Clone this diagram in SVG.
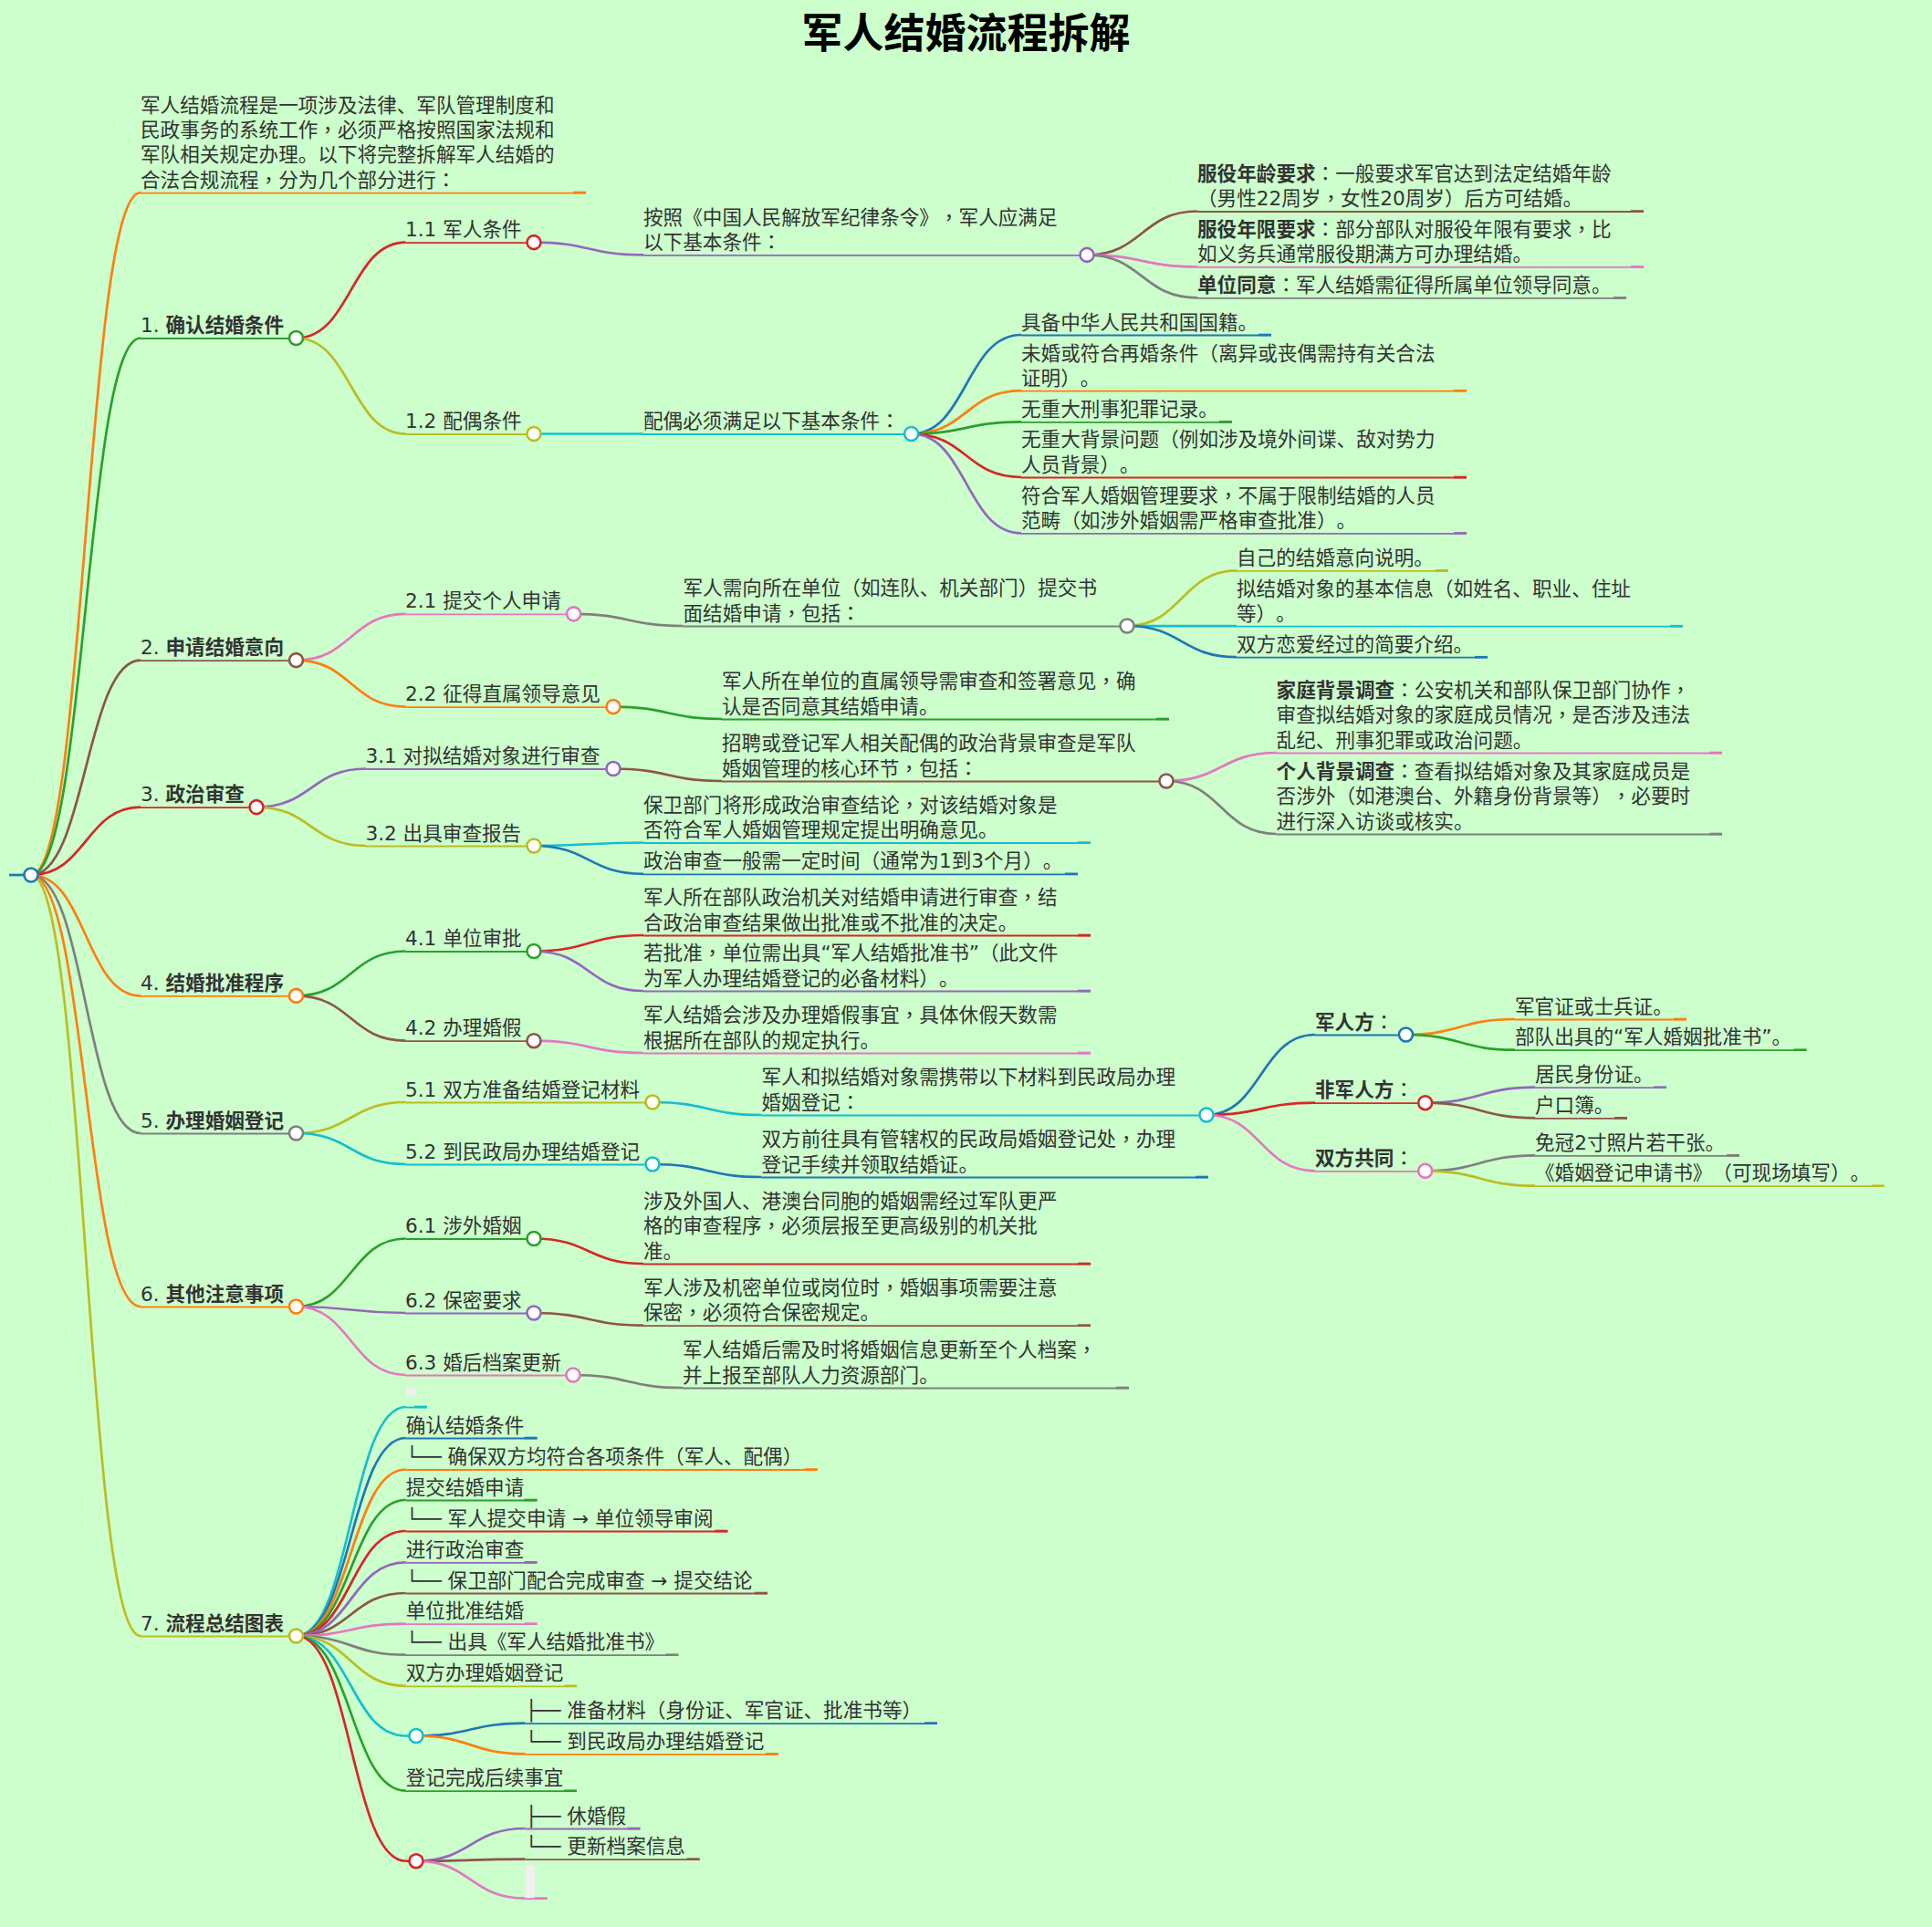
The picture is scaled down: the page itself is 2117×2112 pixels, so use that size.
<svg xmlns="http://www.w3.org/2000/svg" width="2117" height="2112" viewBox="0 0 2117 2112">
<style>
text{font-family:"DejaVu Sans","Noto Sans CJK SC",sans-serif;font-size:21.6px;fill:#333;text-spacing-trim:space-all;transform:translateY(.6px)}
.b{font-weight:700}
.p{font-family:"Noto Sans CJK TC",sans-serif}
.title{font-size:45px;font-weight:700;fill:#000;text-anchor:middle}
path{fill:none}
.l{stroke-width:2.7}
.u{stroke-width:1.8}
.t{stroke-width:2.6}
circle{fill:#fff;stroke-width:2.6}
rect{fill:#f0f0f0}
.c0{stroke:#1f77b4}.c1{stroke:#ff7f0e}.c2{stroke:#2ca02c}.c3{stroke:#d62728}.c4{stroke:#9467bd}.c5{stroke:#8c564b}.c6{stroke:#e377c2}.c7{stroke:#7f7f7f}.c8{stroke:#bcbd22}.c9{stroke:#17becf}
</style>
<rect width="2117" height="2112" style="fill:#ccffcc"/>
<text class="title" x="1058.5" y="52">军人结婚流程拆解</text>
<g id="connectors">
<path class="l c0" d="M10 959H34"/>
<path class="l c1" d="M34 959C94 959 94 211 154 211"/>
<path class="l c2" d="M34 959C94 959 94 370.5 154 370.5"/>
<path class="l c5" d="M34 959C94 959 94 723.6 154 723.6"/>
<path class="l c3" d="M34 959C94 959 94 884.6 154 884.6"/>
<path class="l c1" d="M34 959C94 959 94 1091.4 154 1091.4"/>
<path class="l c7" d="M34 959C94 959 94 1242 154 1242"/>
<path class="l c1" d="M34 959C94 959 94 1432 154 1432"/>
<path class="l c8" d="M34 959C94 959 94 1793 154 1793"/>
<path class="l c3" d="M324.5 370.5C384.5 370.5 384.5 265.6 444.6 265.6"/>
<path class="l c8" d="M324.5 370.5C384.5 370.5 384.5 475.5 444.6 475.5"/>
<path class="l c4" d="M585 265.6C645 265.6 645 279.4 705 279.4"/>
<path class="l c5" d="M1191 279.4C1251.5 279.4 1251.5 231.5 1312 231.5"/>
<path class="l c6" d="M1191 279.4C1251.5 279.4 1251.5 292.4 1312 292.4"/>
<path class="l c7" d="M1191 279.4C1251.5 279.4 1251.5 326.4 1312 326.4"/>
<path class="l c9" d="M585 475.5H705"/>
<path class="l c0" d="M998.6 475.5C1058.8 475.5 1058.8 367 1119 367"/>
<path class="l c1" d="M998.6 475.5C1058.8 475.5 1058.8 428.2 1119 428.2"/>
<path class="l c2" d="M998.6 475.5C1058.8 475.5 1058.8 462.3 1119 462.3"/>
<path class="l c3" d="M998.6 475.5C1058.8 475.5 1058.8 523 1119 523"/>
<path class="l c4" d="M998.6 475.5C1058.8 475.5 1058.8 584.4 1119 584.4"/>
<path class="l c6" d="M324.5 723.6C384.5 723.6 384.5 672.9 444.6 672.9"/>
<path class="l c1" d="M324.5 723.6C384.5 723.6 384.5 774.6 444.6 774.6"/>
<path class="l c7" d="M628.6 672.9C688.5 672.9 688.5 686 748.5 686"/>
<path class="l c8" d="M1235 686C1295 686 1295 625.3 1355 625.3"/>
<path class="l c9" d="M1235 686C1295 686 1295 686.2 1355 686.2"/>
<path class="l c0" d="M1235 686C1295 686 1295 720.2 1355 720.2"/>
<path class="l c2" d="M672 774.6C731.5 774.6 731.5 788 791 788"/>
<path class="l c4" d="M281 884.6C341 884.6 341 842.5 401 842.5"/>
<path class="l c8" d="M281 884.6C341 884.6 341 927 401 927"/>
<path class="l c5" d="M672 842.5C731.5 842.5 731.5 856 791 856"/>
<path class="l c6" d="M1278 856C1338.3 856 1338.3 825 1398.6 825"/>
<path class="l c7" d="M1278 856C1338.3 856 1338.3 914 1398.6 914"/>
<path class="l c9" d="M585 927C645 927 645 923.5 705 923.5"/>
<path class="l c0" d="M585 927C645 927 645 957.8 705 957.8"/>
<path class="l c2" d="M324.5 1091.4C384.5 1091.4 384.5 1042.5 444.6 1042.5"/>
<path class="l c5" d="M324.5 1091.4C384.5 1091.4 384.5 1140.7 444.6 1140.7"/>
<path class="l c3" d="M585 1042.5C645 1042.5 645 1025 705 1025"/>
<path class="l c4" d="M585 1042.5C645 1042.5 645 1086 705 1086"/>
<path class="l c6" d="M585 1140.7C645 1140.7 645 1154 705 1154"/>
<path class="l c8" d="M324.5 1242C384.5 1242 384.5 1208 444.6 1208"/>
<path class="l c9" d="M324.5 1242C384.5 1242 384.5 1276 444.6 1276"/>
<path class="l c9" d="M715 1208C774.8 1208 774.8 1222 834.5 1222"/>
<path class="l c0" d="M715 1276C774.8 1276 774.8 1290 834.5 1290"/>
<path class="l c0" d="M1322 1222C1381.5 1222 1381.5 1134 1441 1134"/>
<path class="l c3" d="M1322 1222C1381.5 1222 1381.5 1208.7 1441 1208.7"/>
<path class="l c6" d="M1322 1222C1381.5 1222 1381.5 1283.3 1441 1283.3"/>
<path class="l c1" d="M1540.5 1134C1600 1134 1600 1117 1660 1117"/>
<path class="l c2" d="M1540.5 1134C1600 1134 1600 1150.7 1660 1150.7"/>
<path class="l c4" d="M1561.7 1208.7C1621.8 1208.7 1621.8 1191.7 1682 1191.7"/>
<path class="l c5" d="M1561.7 1208.7C1621.8 1208.7 1621.8 1225.3 1682 1225.3"/>
<path class="l c7" d="M1561.7 1283.3C1621.8 1283.3 1621.8 1266.3 1682 1266.3"/>
<path class="l c8" d="M1561.7 1283.3C1621.8 1283.3 1621.8 1299.7 1682 1299.7"/>
<path class="l c2" d="M324.5 1432C384.5 1432 384.5 1357.5 444.6 1357.5"/>
<path class="l c4" d="M324.5 1432C384.5 1432 384.5 1439 444.6 1439"/>
<path class="l c6" d="M324.5 1432C384.5 1432 384.5 1507 444.6 1507"/>
<path class="l c3" d="M585 1357.5C645 1357.5 645 1385 705 1385"/>
<path class="l c5" d="M585 1439C645 1439 645 1452.6 705 1452.6"/>
<path class="l c7" d="M628 1507C688 1507 688 1521 748 1521"/>
<path class="l c9" d="M324.5 1793C384.6 1793 384.6 1542 444.7 1542"/>
<path class="l c0" d="M324.5 1793C384.6 1793 384.6 1576 444.7 1576"/>
<path class="l c1" d="M324.5 1793C384.6 1793 384.6 1610.5 444.7 1610.5"/>
<path class="l c2" d="M324.5 1793C384.6 1793 384.6 1644 444.7 1644"/>
<path class="l c3" d="M324.5 1793C384.6 1793 384.6 1678 444.7 1678"/>
<path class="l c4" d="M324.5 1793C384.6 1793 384.6 1712.3 444.7 1712.3"/>
<path class="l c5" d="M324.5 1793C384.6 1793 384.6 1746 444.7 1746"/>
<path class="l c6" d="M324.5 1793C384.6 1793 384.6 1779.6 444.7 1779.6"/>
<path class="l c7" d="M324.5 1793C384.6 1793 384.6 1813.7 444.7 1813.7"/>
<path class="l c8" d="M324.5 1793C384.6 1793 384.6 1847.8 444.7 1847.8"/>
<path class="l c9" d="M324.5 1793C384.6 1793 384.6 1902.5 444.7 1902.5"/>
<path class="l c2" d="M324.5 1793C384.6 1793 384.6 1962.7 444.7 1962.7"/>
<path class="l c3" d="M324.5 1793C384.6 1793 384.6 2039.7 444.7 2039.7"/>
<path class="l c0" d="M456 1902.5C515.8 1902.5 515.8 1888.6 575.5 1888.6"/>
<path class="l c1" d="M456 1902.5C515.8 1902.5 515.8 1922.3 575.5 1922.3"/>
<path class="l c4" d="M456 2039.7C515.8 2039.7 515.8 2004 575.5 2004"/>
<path class="l c5" d="M456 2039.7C515.8 2039.7 515.8 2037.6 575.5 2037.6"/>
<path class="l c6" d="M456 2039.7C515.8 2039.7 515.8 2080.6 575.5 2080.6"/>
</g>
<g id="root"><circle class="c0" cx="34" cy="959" r="7.5"/></g>
<g id="intro"><path class="u c1" d="M154 211.6H642"/><path class="t c1" d="M628 211H642"/>
<text x="154" y="122.4">军人结婚流程是一项涉及法律、军队管理制度和</text><text x="154" y="149.6">民政事务的系统工作<tspan class="p">，</tspan>必须严格按照国家法规和</text><text x="154" y="176.8">军队相关规定办理。以下将完整拆解军人结婚的</text><text x="154" y="204">合法合规流程<tspan class="p">，</tspan>分为几个部分进行<tspan class="p">：</tspan></text></g>
<g id="n1"><path class="u c2" d="M154 371H324.5"/><circle class="c2" cx="324.5" cy="370.5" r="7.5"/><text x="154" y="363.5">1. <tspan class="b">确认结婚条件</tspan></text></g>
<g id="n1-1"><path class="u c3" d="M444.6 266.1H585"/><circle class="c3" cx="585" cy="265.6" r="7.5"/><text x="444" y="258.6">1.1 军人条件</text></g>
<g id="n1-1-a"><path class="u c4" d="M705 279.9H1191"/><circle class="c4" cx="1191" cy="279.4" r="7.5"/><text x="705" y="245.2">按照《中国人民解放军纪律条令》<tspan class="p">，</tspan>军人应满足</text><text x="705" y="272.4">以下基本条件<tspan class="p">：</tspan></text></g>
<g id="n1-1-a1"><path class="u c5" d="M1312 232H1801"/><path class="t c5" d="M1787 231.5H1801"/><text x="1312" y="197.3"><tspan class="b">服役年龄要求</tspan><tspan class="p">：</tspan>一般要求军官达到法定结婚年龄</text><text x="1312" y="224.5"><tspan class="p">（</tspan>男性22周岁<tspan class="p">，</tspan>女性20周岁<tspan class="p">）</tspan>后方可结婚。</text></g>
<g id="n1-1-a2"><path class="u c6" d="M1312 292.9H1801"/><path class="t c6" d="M1787 292.4H1801"/><text x="1312" y="258.2"><tspan class="b">服役年限要求</tspan><tspan class="p">：</tspan>部分部队对服役年限有要求<tspan class="p">，</tspan>比</text><text x="1312" y="285.4">如义务兵通常服役期满方可办理结婚。</text></g>
<g id="n1-1-a3"><path class="u c7" d="M1312 326.9H1782"/><path class="t c7" d="M1768 326.4H1782"/><text x="1312" y="319.4"><tspan class="b">单位同意</tspan><tspan class="p">：</tspan>军人结婚需征得所属单位领导同意。</text></g>
<g id="n1-2"><path class="u c8" d="M444.6 476H585"/><circle class="c8" cx="585" cy="475.5" r="7.5"/><text x="444" y="468.5">1.2 配偶条件</text></g>
<g id="n1-2-a"><path class="u c9" d="M705 476H998.6"/><circle class="c9" cx="998.6" cy="475.5" r="7.5"/><text x="705" y="468.5">配偶必须满足以下基本条件<tspan class="p">：</tspan></text></g>
<g id="n1-2-a1"><path class="u c0" d="M1119 367.5H1393"/><path class="t c0" d="M1379 367H1393"/><text x="1119" y="360">具备中华人民共和国国籍。</text></g>
<g id="n1-2-a2"><path class="u c1" d="M1119 428.7H1607"/><path class="t c1" d="M1593 428.2H1607"/><text x="1119" y="394">未婚或符合再婚条件<tspan class="p">（</tspan>离异或丧偶需持有关合法</text><text x="1119" y="421.2">证明<tspan class="p">）</tspan>。</text></g>
<g id="n1-2-a3"><path class="u c2" d="M1119 462.8H1350"/><path class="t c2" d="M1336 462.3H1350"/><text x="1119" y="455.3">无重大刑事犯罪记录。</text></g>
<g id="n1-2-a4"><path class="u c3" d="M1119 523.5H1607"/><path class="t c3" d="M1593 523H1607"/><text x="1119" y="488.8">无重大背景问题<tspan class="p">（</tspan>例如涉及境外间谍、敌对势力</text><text x="1119" y="516">人员背景<tspan class="p">）</tspan>。</text></g>
<g id="n1-2-a5"><path class="u c4" d="M1119 584.9H1607"/><path class="t c4" d="M1593 584.4H1607"/><text x="1119" y="550.2">符合军人婚姻管理要求<tspan class="p">，</tspan>不属于限制结婚的人员</text><text x="1119" y="577.4">范畴<tspan class="p">（</tspan>如涉外婚姻需严格审查批准<tspan class="p">）</tspan>。</text></g>
<g id="n2"><path class="u c5" d="M154 724.1H324.5"/><circle class="c5" cx="324.5" cy="723.6" r="7.5"/><text x="154" y="716.6">2. <tspan class="b">申请结婚意向</tspan></text></g>
<g id="n2-1"><path class="u c6" d="M444.6 673.4H628.6"/><circle class="c6" cx="628.6" cy="672.9" r="7.5"/><text x="444" y="665.9">2.1 提交个人申请</text></g>
<g id="n2-1-a"><path class="u c7" d="M748.5 686.5H1235"/><circle class="c7" cx="1235" cy="686" r="7.5"/><text x="748.5" y="651.8">军人需向所在单位<tspan class="p">（</tspan>如连队、机关部门<tspan class="p">）</tspan>提交书</text><text x="748.5" y="679">面结婚申请<tspan class="p">，</tspan>包括<tspan class="p">：</tspan></text></g>
<g id="n2-1-a1"><path class="u c8" d="M1355 625.8H1587"/><path class="t c8" d="M1573 625.3H1587"/><text x="1355" y="618.3">自己的结婚意向说明。</text></g>
<g id="n2-1-a2"><path class="u c9" d="M1355 686.7H1844"/><path class="t c9" d="M1830 686.2H1844"/><text x="1355" y="652">拟结婚对象的基本信息<tspan class="p">（</tspan>如姓名、职业、住址</text><text x="1355" y="679.2">等<tspan class="p">）</tspan>。</text></g>
<g id="n2-1-a3"><path class="u c0" d="M1355 720.7H1630"/><path class="t c0" d="M1616 720.2H1630"/><text x="1355" y="713.2">双方恋爱经过的简要介绍。</text></g>
<g id="n2-2"><path class="u c1" d="M444.6 775.1H672"/><circle class="c1" cx="672" cy="774.6" r="7.5"/><text x="444" y="767.6">2.2 征得直属领导意见</text></g>
<g id="n2-2-a"><path class="u c2" d="M791 788.5H1281"/><path class="t c2" d="M1267 788H1281"/><text x="791" y="753.8">军人所在单位的直属领导需审查和签署意见<tspan class="p">，</tspan>确</text><text x="791" y="781">认是否同意其结婚申请。</text></g>
<g id="n3"><path class="u c3" d="M154 885.1H281"/><circle class="c3" cx="281" cy="884.6" r="7.5"/><text x="154" y="877.6">3. <tspan class="b">政治审查</tspan></text></g>
<g id="n3-1"><path class="u c4" d="M401 843H672"/><circle class="c4" cx="672" cy="842.5" r="7.5"/><text x="400.4" y="835.5">3.1 对拟结婚对象进行审查</text></g>
<g id="n3-1-a"><path class="u c5" d="M791 856.5H1278"/><circle class="c5" cx="1278" cy="856" r="7.5"/><text x="791" y="821.8">招聘或登记军人相关配偶的政治背景审查是军队</text><text x="791" y="849">婚姻管理的核心环节<tspan class="p">，</tspan>包括<tspan class="p">：</tspan></text></g>
<g id="n3-1-a1"><path class="u c6" d="M1398.6 825.5H1887"/><path class="t c6" d="M1873 825H1887"/><text x="1398.6" y="763.6"><tspan class="b">家庭背景调查</tspan><tspan class="p">：</tspan>公安机关和部队保卫部门协作<tspan class="p">，</tspan></text><text x="1398.6" y="790.8">审查拟结婚对象的家庭成员情况<tspan class="p">，</tspan>是否涉及违法</text><text x="1398.6" y="818">乱纪、刑事犯罪或政治问题。</text></g>
<g id="n3-1-a2"><path class="u c7" d="M1398.6 914.5H1887"/><path class="t c7" d="M1873 914H1887"/><text x="1398.6" y="852.6"><tspan class="b">个人背景调查</tspan><tspan class="p">：</tspan>查看拟结婚对象及其家庭成员是</text><text x="1398.6" y="879.8">否涉外<tspan class="p">（</tspan>如港澳台、外籍身份背景等<tspan class="p">）</tspan><tspan class="p">，</tspan>必要时</text><text x="1398.6" y="907">进行深入访谈或核实。</text></g>
<g id="n3-2"><path class="u c8" d="M401 927.5H585"/><circle class="c8" cx="585" cy="927" r="7.5"/><text x="400.4" y="920">3.2 出具审查报告</text></g>
<g id="n3-2-a1"><path class="u c9" d="M705 924H1195"/><path class="t c9" d="M1181 923.5H1195"/><text x="705" y="889.3">保卫部门将形成政治审查结论<tspan class="p">，</tspan>对该结婚对象是</text><text x="705" y="916.5">否符合军人婚姻管理规定提出明确意见。</text></g>
<g id="n3-2-a2"><path class="u c0" d="M705 958.3H1181"/><path class="t c0" d="M1167 957.8H1181"/><text x="705" y="950.8">政治审查一般需一定时间<tspan class="p">（</tspan>通常为1到3个月<tspan class="p">）</tspan>。</text></g>
<g id="n4"><path class="u c1" d="M154 1091.9H324.5"/><circle class="c1" cx="324.5" cy="1091.4" r="7.5"/><text x="154" y="1084.4">4. <tspan class="b">结婚批准程序</tspan></text></g>
<g id="n4-1"><path class="u c2" d="M444.6 1043H585"/><circle class="c2" cx="585" cy="1042.5" r="7.5"/><text x="444" y="1035.5">4.1 单位审批</text></g>
<g id="n4-1-a1"><path class="u c3" d="M705 1025.5H1195"/><path class="t c3" d="M1181 1025H1195"/><text x="705" y="990.8">军人所在部队政治机关对结婚申请进行审查<tspan class="p">，</tspan>结</text><text x="705" y="1018">合政治审查结果做出批准或不批准的决定。</text></g>
<g id="n4-1-a2"><path class="u c4" d="M705 1086.5H1195"/><path class="t c4" d="M1181 1086H1195"/><text x="705" y="1051.8">若批准<tspan class="p">，</tspan>单位需出具“军人结婚批准书”<tspan class="p">（</tspan>此文件</text><text x="705" y="1079">为军人办理结婚登记的必备材料<tspan class="p">）</tspan>。</text></g>
<g id="n4-2"><path class="u c5" d="M444.6 1141.2H585"/><circle class="c5" cx="585" cy="1140.7" r="7.5"/><text x="444" y="1133.7">4.2 办理婚假</text></g>
<g id="n4-2-a"><path class="u c6" d="M705 1154.5H1195"/><path class="t c6" d="M1181 1154H1195"/><text x="705" y="1119.8">军人结婚会涉及办理婚假事宜<tspan class="p">，</tspan>具体休假天数需</text><text x="705" y="1147">根据所在部队的规定执行。</text></g>
<g id="n5"><path class="u c7" d="M154 1242.5H324.5"/><circle class="c7" cx="324.5" cy="1242" r="7.5"/><text x="154" y="1235">5. <tspan class="b">办理婚姻登记</tspan></text></g>
<g id="n5-1"><path class="u c8" d="M444.6 1208.5H715"/><circle class="c8" cx="715" cy="1208" r="7.5"/><text x="444" y="1201">5.1 双方准备结婚登记材料</text></g>
<g id="n5-1-a"><path class="u c9" d="M834.5 1222.5H1322"/><circle class="c9" cx="1322" cy="1222" r="7.5"/><text x="834.5" y="1187.8">军人和拟结婚对象需携带以下材料到民政局办理</text><text x="834.5" y="1215">婚姻登记<tspan class="p">：</tspan></text></g>
<g id="n5-1-a1"><path class="u c0" d="M1441 1134.5H1540.5"/><circle class="c0" cx="1540.5" cy="1134" r="7.5"/><text x="1441" y="1127"><tspan class="b">军人方</tspan><tspan class="p">：</tspan></text></g>
<g id="n5-1-a1-1"><path class="u c1" d="M1660 1117.5H1848"/><path class="t c1" d="M1834 1117H1848"/><text x="1660" y="1110">军官证或士兵证。</text></g>
<g id="n5-1-a1-2"><path class="u c2" d="M1660 1151.2H1979.5"/><path class="t c2" d="M1965.5 1150.7H1979.5"/><text x="1660" y="1143.7">部队出具的“军人婚姻批准书”。</text></g>
<g id="n5-1-a2"><path class="u c3" d="M1441 1209.2H1561.7"/><circle class="c3" cx="1561.7" cy="1208.7" r="7.5"/><text x="1441" y="1201.7"><tspan class="b">非军人方</tspan><tspan class="p">：</tspan></text></g>
<g id="n5-1-a2-1"><path class="u c4" d="M1682 1192.2H1826"/><path class="t c4" d="M1812 1191.7H1826"/><text x="1682" y="1184.7">居民身份证。</text></g>
<g id="n5-1-a2-2"><path class="u c5" d="M1682 1225.8H1783"/><path class="t c5" d="M1769 1225.3H1783"/><text x="1682" y="1218.3">户口簿。</text></g>
<g id="n5-1-a3"><path class="u c6" d="M1441 1283.8H1561.7"/><circle class="c6" cx="1561.7" cy="1283.3" r="7.5"/><text x="1441" y="1276.3"><tspan class="b">双方共同</tspan><tspan class="p">：</tspan></text></g>
<g id="n5-1-a3-1"><path class="u c7" d="M1682 1266.8H1906"/><path class="t c7" d="M1892 1266.3H1906"/><text x="1682" y="1259.3">免冠2寸照片若干张。</text></g>
<g id="n5-1-a3-2"><path class="u c8" d="M1682 1300.2H2064.6"/><path class="t c8" d="M2050.6 1299.7H2064.6"/><text x="1682" y="1292.7">《婚姻登记申请书》<tspan class="p">（</tspan>可现场填写<tspan class="p">）</tspan>。</text></g>
<g id="n5-2"><path class="u c9" d="M444.6 1276.5H715"/><circle class="c9" cx="715" cy="1276" r="7.5"/><text x="444" y="1269">5.2 到民政局办理结婚登记</text></g>
<g id="n5-2-a"><path class="u c0" d="M834.5 1290.5H1324"/><path class="t c0" d="M1310 1290H1324"/><text x="834.5" y="1255.8">双方前往具有管辖权的民政局婚姻登记处<tspan class="p">，</tspan>办理</text><text x="834.5" y="1283">登记手续并领取结婚证。</text></g>
<g id="n6"><path class="u c1" d="M154 1432.5H324.5"/><circle class="c1" cx="324.5" cy="1432" r="7.5"/><text x="154" y="1425">6. <tspan class="b">其他注意事项</tspan></text></g>
<g id="n6-1"><path class="u c2" d="M444.6 1358H585"/><circle class="c2" cx="585" cy="1357.5" r="7.5"/><text x="444" y="1350.5">6.1 涉外婚姻</text></g>
<g id="n6-1-a"><path class="u c3" d="M705 1385.5H1195"/><path class="t c3" d="M1181 1385H1195"/><text x="705" y="1323.6">涉及外国人、港澳台同胞的婚姻需经过军队更严</text><text x="705" y="1350.8">格的审查程序<tspan class="p">，</tspan>必须层报至更高级别的机关批</text><text x="705" y="1378">准。</text></g>
<g id="n6-2"><path class="u c4" d="M444.6 1439.5H585"/><circle class="c4" cx="585" cy="1439" r="7.5"/><text x="444" y="1432">6.2 保密要求</text></g>
<g id="n6-2-a"><path class="u c5" d="M705 1453.1H1195"/><path class="t c5" d="M1181 1452.6H1195"/><text x="705" y="1418.4">军人涉及机密单位或岗位时<tspan class="p">，</tspan>婚姻事项需要注意</text><text x="705" y="1445.6">保密<tspan class="p">，</tspan>必须符合保密规定。</text></g>
<g id="n6-3"><path class="u c6" d="M444.6 1507.5H628"/><circle class="c6" cx="628" cy="1507" r="7.5"/><text x="444" y="1500">6.3 婚后档案更新</text></g>
<g id="n6-3-a"><path class="u c7" d="M748 1521.5H1237"/><path class="t c7" d="M1223 1521H1237"/><text x="748" y="1486.8">军人结婚后需及时将婚姻信息更新至个人档案<tspan class="p">，</tspan></text><text x="748" y="1514">并上报至部队人力资源部门。</text></g>
<g id="n7"><path class="u c8" d="M154 1793.5H324.5"/><circle class="c8" cx="324.5" cy="1793" r="7.5"/><text x="154" y="1786">7. <tspan class="b">流程总结图表</tspan></text></g>
<g id="n7-0"><path class="u c9" d="M444.7 1542.5H468"/><path class="t c9" d="M454 1542H468"/><rect x="444.7" y="1521" width="9.8" height="9"/></g>
<g id="n7-1"><path class="u c0" d="M444.7 1576.5H588.5"/><path class="t c0" d="M574.5 1576H588.5"/><text x="444.7" y="1569">确认结婚条件</text></g>
<g id="n7-2"><path class="u c1" d="M444.7 1611H895.6"/><path class="t c1" d="M881.6 1610.5H895.6"/><text x="444.7" y="1603.5">└── 确保双方均符合各项条件<tspan class="p">（</tspan>军人、配偶<tspan class="p">）</tspan></text></g>
<g id="n7-3"><path class="u c2" d="M444.7 1644.5H588.5"/><path class="t c2" d="M574.5 1644H588.5"/><text x="444.7" y="1637">提交结婚申请</text></g>
<g id="n7-4"><path class="u c3" d="M444.7 1678.5H797.4"/><path class="t c3" d="M783.4 1678H797.4"/><text x="444.7" y="1671">└── 军人提交申请 → 单位领导审阅</text></g>
<g id="n7-5"><path class="u c4" d="M444.7 1712.8H588.5"/><path class="t c4" d="M574.5 1712.3H588.5"/><text x="444.7" y="1705.3">进行政治审查</text></g>
<g id="n7-6"><path class="u c5" d="M444.7 1746.5H841"/><path class="t c5" d="M827 1746H841"/><text x="444.7" y="1739">└── 保卫部门配合完成审查 → 提交结论</text></g>
<g id="n7-7"><path class="u c6" d="M444.7 1780.1H588.5"/><path class="t c6" d="M574.5 1779.6H588.5"/><text x="444.7" y="1772.6">单位批准结婚</text></g>
<g id="n7-8"><path class="u c7" d="M444.7 1814.2H743.4"/><path class="t c7" d="M729.4 1813.7H743.4"/><text x="444.7" y="1806.7">└── 出具《军人结婚批准书》</text></g>
<g id="n7-9"><path class="u c8" d="M444.7 1848.3H632"/><path class="t c8" d="M618 1847.8H632"/><text x="444.7" y="1840.8">双方办理婚姻登记</text></g>
<g id="n7-10"><path class="l c9" d="M444.7 1902.5H456"/><circle class="c9" cx="456" cy="1902.5" r="7.5"/></g>
<g id="n7-10-1"><path class="u c0" d="M575.5 1889.1H1027"/><path class="t c0" d="M1013 1888.6H1027"/><text x="575.5" y="1881.6">├── 准备材料<tspan class="p">（</tspan>身份证、军官证、批准书等<tspan class="p">）</tspan></text></g>
<g id="n7-10-2"><path class="u c1" d="M575.5 1922.8H853"/><path class="t c1" d="M839 1922.3H853"/><text x="575.5" y="1915.3">└── 到民政局办理结婚登记</text></g>
<g id="n7-11"><path class="u c2" d="M444.7 1963.2H632"/><path class="t c2" d="M618 1962.7H632"/><text x="444.7" y="1955.7">登记完成后续事宜</text></g>
<g id="n7-12"><path class="l c3" d="M444.7 2039.7H456"/><circle class="c3" cx="456" cy="2039.7" r="7.5"/></g>
<g id="n7-12-1"><path class="u c4" d="M575.5 2004.5H701.4"/><path class="t c4" d="M687.4 2004H701.4"/><text x="575.5" y="1997">├── 休婚假</text></g>
<g id="n7-12-2"><path class="u c5" d="M575.5 2038.1H766.6"/><path class="t c5" d="M752.6 2037.6H766.6"/><text x="575.5" y="2030.6">└── 更新档案信息</text></g>
<g id="n7-12-3"><rect x="575.5" y="2045" width="10.5" height="35.5"/><path class="u c6" d="M575.5 2081.1H599.6"/><path class="t c6" d="M585.6 2080.6H599.6"/></g>
</svg>
